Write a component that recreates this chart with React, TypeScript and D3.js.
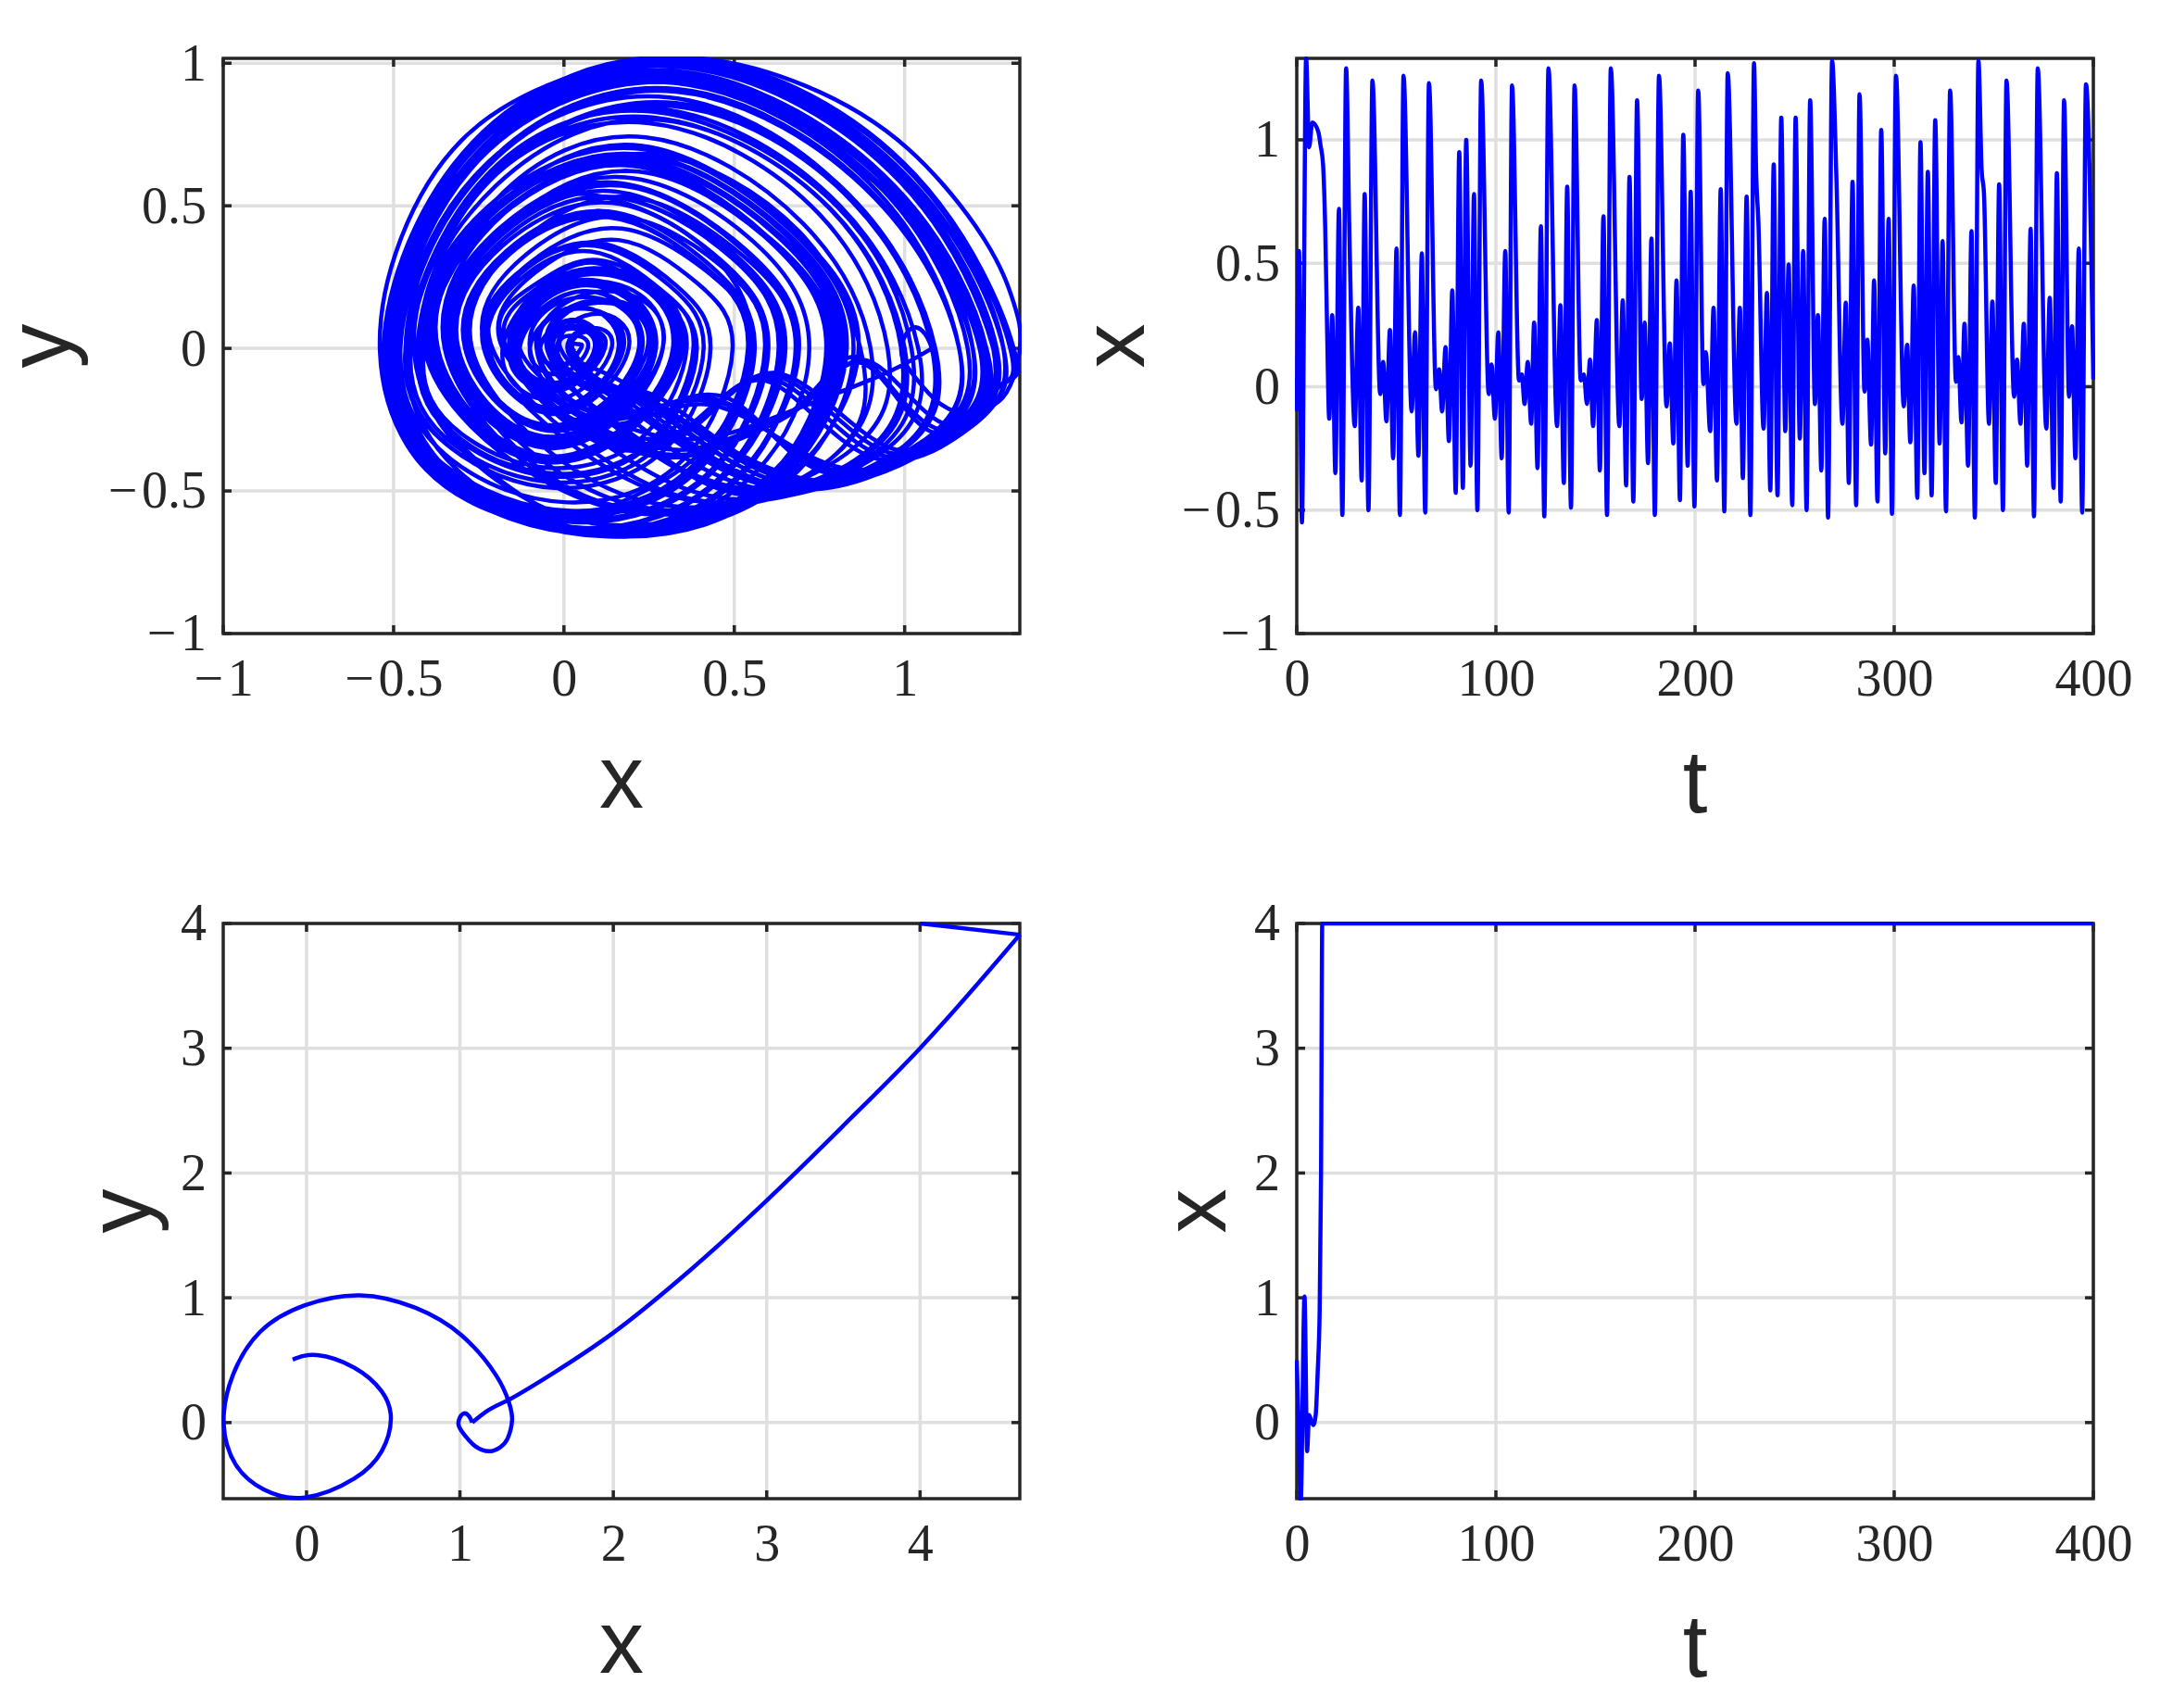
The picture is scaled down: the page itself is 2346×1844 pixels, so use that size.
import { useEffect, useRef } from "react";
import * as d3 from "d3";

// x(t), bounded run: turning points
const boundedT = [
  0, 1.1, 2.6, 4.7, 6.2, 7.8, 10.9, 11.9, 13.2, 14.3,
  15.2, 16.3, 17.8, 19.4, 21.2, 22.9, 24.8, 26.4, 29.1, 30.9,
  32.6, 34.1, 36, 38, 41.9, 43.4, 45, 46.8, 48.4, 50.1,
  51.8, 53.6, 57.7, 59.4, 61.1, 62.8, 64.5, 66.4, 69.9, 71.5,
  73, 74.7, 76.4, 78.1, 79.8, 81.6, 83.4, 85.1, 87.3, 89,
  90.7, 92.6, 96.4, 97.8, 99.5, 101.2, 102.9, 104.7, 106.4, 108.1,
  111.6, 113, 114.4, 116, 117.7, 119.2, 120.9, 122.6, 124.3, 126.4,
  130.7, 132.4, 134.1, 135.8, 137.7, 139.5, 142.6, 144.2, 145.7, 147.3,
  148.8, 150.7, 152.2, 154, 155.8, 157.7, 162, 163.7, 165.4, 167.1,
  169, 170.9, 173.2, 174.7, 176.4, 178.1, 179.8, 181.9, 185.7, 187.3,
  189.1, 190.7, 192.4, 194.1, 196.3, 197.8, 199.7, 201.6, 204.2, 205.4,
  207.6, 209.3, 211, 212.9, 214.7, 216.4, 220.8, 222.5, 224, 225.9,
  227.8, 229.6, 230.7, 231.8, 234.4, 236.1, 237.8, 239.5, 241.4, 243.3,
  245.3, 247, 248.8, 250.5, 252.6, 254.3, 256, 257.8, 260.2, 261.7,
  263.4, 265.1, 266.8, 268.8, 271, 274, 275.7, 277.2, 279.1, 280.9,
  282.6, 285.1, 286.5, 288.4, 289.9, 291.6, 293.5, 295.5, 297.2, 298.9,
  300.9, 304.8, 306.5, 308.1, 309.8, 311.6, 313.2, 315.2, 316.9, 318.8,
  320.6, 322.8, 324.3, 326, 328.1, 331, 332.2, 333.8, 335.3, 337.1,
  338.8, 340.5, 342.3, 343.9, 345.1, 347.6, 349.3, 351, 352.7, 354.6,
  356.4, 360.2, 361.7, 363.4, 365.1, 366.8, 368.5, 370.2, 372.1, 376.4,
  378.1, 380, 381.7, 383.6, 385.3, 387.8, 389.3, 391, 392.7, 394.4,
  396.3, 400,
];
const boundedX = [
  -0.1, 0.55, -0.55, 1.33, 0.97, 1.07, 1.03, 0.98, 0.9, 0.64,
  0.25, -0.13, 0.29, -0.35, 0.72, -0.52, 1.29, 0.63, -0.16, 0.32,
  -0.38, 0.78, -0.5, 1.24, -0.03, 0.1, -0.14, 0.23, -0.29, 0.56,
  -0.52, 1.26, -0.1, 0.22, -0.28, 0.54, -0.51, 1.23, -0.01, 0.07,
  -0.1, 0.16, -0.22, 0.39, -0.43, 0.95, -0.41, 1, -0.32, 0.78,
  -0.5, 1.24, -0.03, 0.09, -0.13, 0.22, -0.29, 0.55, -0.51, 1.22,
  0.025, 0.05, -0.07, 0.1, -0.15, 0.26, -0.33, 0.65, -0.525, 1.29,
  -0.16, 0.33, -0.39, 0.81, -0.49, 1.22, 0.025, 0.05, -0.07, 0.11,
  -0.16, 0.27, -0.34, 0.69, -0.52, 1.29, -0.16, 0.35, -0.4, 0.85,
  -0.465, 1.16, -0.05, 0.26, -0.31, 0.6, -0.52, 1.26, -0.08, 0.175,
  -0.23, 0.43, -0.46, 1.02, -0.32, 0.79, -0.485, 1.2, 0.01, 0.14,
  -0.18, 0.32, -0.38, 0.8, -0.505, 1.27, -0.15, 0.32, -0.37, 0.77,
  -0.52, 1.31, 0.86, 0.67, -0.17, 0.38, -0.42, 0.9, -0.44, 1.09,
  -0.18, 0.495, -0.48, 1.09, -0.21, 0.55, -0.5, 1.16, -0.07, 0.29,
  -0.34, 0.68, -0.53, 1.32, 0.84, -0.15, 0.34, -0.39, 0.83, -0.48,
  1.185, -0.02, 0.19, -0.235, 0.43, -0.465, 1.04, -0.27, 0.68, -0.515,
  1.26, -0.08, 0.17, -0.225, 0.41, -0.45, 0.99, -0.35, 0.87, -0.44,
  1.08, -0.23, 0.59, -0.505, 1.2, 0.02, 0.12, -0.145, 0.255, -0.32,
  0.63, -0.53, 1.32, 0.88, 0.78, -0.15, 0.345, -0.39, 0.82, -0.5,
  1.24, -0.04, 0.11, -0.15, 0.255, -0.32, 0.64, -0.525, 1.29, -0.17,
  0.36, -0.41, 0.865, -0.465, 1.16, -0.04, 0.245, -0.29, 0.56, -0.51,
  1.225, 0.03,
];

// opening spiral, shared by both phase plots: [x, y]
const spiralKnots = [
  [-0.09, 0.505], [0.07, 0.54], [0.31, 0.44], [0.49, 0.25], [0.55, 0.03], [0.49, -0.23],
  [0.31, -0.45], [-0.01, -0.6], [-0.28, -0.535], [-0.46, -0.34], [-0.54, -0.01], [-0.48, 0.38],
  [-0.3, 0.73], [-0.01, 0.94], [0.35, 1.02], [0.71, 0.92], [1.01, 0.7], [1.235, 0.38], [1.32, 0.16],
  [1.34, 0.02], [1.31, -0.13], [1.26, -0.2], [1.19, -0.23], [1.1, -0.19], [1.03, -0.1], [0.99, -0.01],
  [1.02, 0.07], [1.06, 0.05], [1.08, 0],
];
const settleKnots = [[1.08, 0], [0.92, -0.1], [0.6, -0.25], [0.25, -0.3], [-0.13, 0]];

// one row per turn: trough x, peak x, knots on the way up, knots on the way back
const orbitTurns: [number, number, number[], number[]][] = [
  [-0.13, 0.29, [0.08, 0.235], [-0.03, -0.35]],
  [-0.35, 0.72, [-0.19, 0.42, 0.18, 0.6, 0.56, 0.37], [0.54, -0.46, 0.09, -0.65, -0.34, -0.46]],
  [-0.52, 1.29, [-0.26, 0.72, 0.36, 1.015, 1.01, 0.6], [1.2, -0.26, 0.92, -0.37, 0.62, -0.11, 0.38, -0.26, 0.12, -0.31]],
  [-0.16, 0.32, [0.08, 0.27], [-0.03, -0.38]],
  [-0.38, 0.78, [-0.2, 0.46, 0.2, 0.65, 0.6, 0.39], [0.59, -0.47, 0.14, -0.65, -0.31, -0.47]],
  [-0.5, 1.24, [-0.27, 0.69, 0.34, 0.97, 0.97, 0.57], [1.14, -0.3, 0.7, -0.47, 0.27, -0.19, 0.08, -0.13]],
  [-0.03, 0.1, [0.03, 0.07], [-0.02, -0.13]],
  [-0.14, 0.23, [0.05, 0.2], [-0.03, -0.28]],
  [-0.29, 0.56, [-0.17, 0.34, 0.13, 0.48, 0.43, 0.29], [0.4, -0.42, 0.02, -0.59, -0.36, -0.42]],
  [-0.52, 1.26, [-0.27, 0.7, 0.35, 0.99, 0.99, 0.58], [1.17, -0.27, 0.8, -0.43, 0.45, -0.18, 0.12, -0.25]],
  [-0.1, 0.22, [0.06, 0.18], [-0.03, -0.27]],
  [-0.28, 0.54, [-0.16, 0.33, 0.13, 0.46, 0.42, 0.28], [0.38, -0.41, 0.015, -0.57, -0.35, -0.41]],
  [-0.51, 1.23, [-0.26, 0.68, 0.33, 0.96, 0.96, 0.56], [1.13, -0.3, 0.72, -0.46, 0.28, -0.2, 0.1, -0.13]],
  [-0.01, 0.07, [0.03, 0.045], [-0.015, -0.09]],
  [-0.1, 0.16, [0.03, 0.145], [-0.03, -0.21]],
  [-0.22, 0.39, [-0.13, 0.24, 0.08, 0.34, 0.29, 0.2], [0.27, -0.32, -0.02, -0.45, -0.31, -0.32]],
  [-0.43, 0.95, [-0.24, 0.56, 0.25, 0.79, 0.75, 0.47], [0.85, -0.35, 0.4, -0.57, -0.05, -0.47]],
  [-0.41, 1, [-0.2, 0.57, 0.29, 0.8, 0.79, 0.48], [0.9, -0.36, 0.45, -0.55, 0, -0.48]],
  [-0.32, 0.78, [-0.16, 0.44, 0.22, 0.62, 0.61, 0.37], [0.59, -0.46, 0.14, -0.64, -0.31, -0.46]],
  [-0.5, 1.24, [-0.26, 0.67, 0.33, 0.95, 0.97, 0.55], [1.15, -0.28, 0.68, -0.48, 0.26, -0.2, 0.08, -0.14]],
  [-0.03, 0.09, [0.03, 0.07], [-0.02, -0.12]],
  [-0.13, 0.22, [0.05, 0.2], [-0.03, -0.27]],
  [-0.29, 0.55, [-0.17, 0.33, 0.12, 0.47, 0.42, 0.28], [0.39, -0.41, 0.02, -0.57, -0.35, -0.41]],
  [-0.51, 1.22, [-0.26, 0.67, 0.33, 0.94, 0.95, 0.55], [1.12, -0.3, 0.68, -0.48, 0.25, -0.2, 0.08, -0.1]],
  [0.025, 0.05, [0.04, 0.015], [-0.01, -0.065]],
  [-0.07, 0.1, [0.02, 0.095], [-0.025, -0.14]],
  [-0.15, 0.26, [0.05, 0.23], [-0.03, -0.32]],
  [-0.33, 0.65, [-0.19, 0.39, 0.15, 0.55, 0.5, 0.33], [0.47, -0.45, 0.06, -0.63, -0.35, -0.45]],
  [-0.525, 1.29, [-0.27, 0.71, 0.36, 1.005, 1.01, 0.59], [1.21, -0.25, 0.94, -0.36, 0.63, -0.1, 0.37, -0.27, 0.11, -0.32]],
  [-0.16, 0.33, [0.08, 0.27], [-0.03, -0.39]],
  [-0.39, 0.81, [-0.22, 0.48, 0.2, 0.67, 0.63, 0.4], [0.61, -0.48, 0.16, -0.66, -0.3, -0.48]],
  [-0.49, 1.22, [-0.25, 0.66, 0.33, 0.93, 0.95, 0.54], [1.11, -0.31, 0.66, -0.49, 0.24, -0.21, 0.09, -0.1]],
  [0.025, 0.05, [0.04, 0.015], [-0.01, -0.06]],
  [-0.07, 0.11, [0.02, 0.1], [-0.025, -0.15]],
  [-0.16, 0.27, [0.05, 0.24], [-0.035, -0.33]],
  [-0.34, 0.69, [-0.19, 0.41, 0.16, 0.58, 0.53, 0.35], [0.5, -0.46, 0.08, -0.65, -0.33, -0.46]],
  [-0.52, 1.29, [-0.26, 0.71, 0.36, 1.01, 1.01, 0.6], [1.19, -0.28, 0.9, -0.38, 0.61, -0.12, 0.41, -0.24, 0.13, -0.3]],
  [-0.16, 0.35, [0.09, 0.28], [-0.03, -0.4]],
  [-0.4, 0.85, [-0.22, 0.5, 0.22, 0.7, 0.66, 0.42], [0.65, -0.47, 0.18, -0.65, -0.27, -0.47]],
  [-0.465, 1.16, [-0.23, 0.63, 0.33, 0.9, 0.91, 0.53], [1.05, -0.33, 0.6, -0.51, 0.2, -0.32]],
  [-0.05, 0.26, [0.1, 0.17], [-0.03, -0.31]],
  [-0.31, 0.6, [-0.18, 0.36, 0.14, 0.51, 0.46, 0.31], [0.43, -0.44, 0.04, -0.61, -0.35, -0.44]],
  [-0.52, 1.26, [-0.27, 0.7, 0.35, 0.985, 0.99, 0.58], [1.18, -0.26, 0.78, -0.44, 0.47, -0.17, 0.14, -0.24]],
  [-0.08, 0.175, [0.05, 0.14], [-0.03, -0.22]],
  [-0.23, 0.43, [-0.13, 0.26, 0.1, 0.37, 0.33, 0.22], [0.3, -0.35, -0.02, -0.49, -0.33, -0.35]],
  [-0.46, 1.02, [-0.24, 0.59, 0.26, 0.83, 0.8, 0.5], [0.92, -0.36, 0.47, -0.56, 0.02, -0.46]],
  [-0.32, 0.79, [-0.16, 0.44, 0.22, 0.62, 0.62, 0.37], [0.6, -0.47, 0.15, -0.64, -0.3, -0.47]],
  [-0.485, 1.2, [-0.25, 0.66, 0.33, 0.94, 0.94, 0.55], [1.09, -0.32, 0.65, -0.49, 0.25, -0.24, 0.08, -0.1]],
  [0.01, 0.14, [0.07, 0.07], [-0.02, -0.18]],
  [-0.18, 0.32, [0.07, 0.28], [-0.03, -0.38]],
  [-0.38, 0.8, [-0.21, 0.47, 0.2, 0.66, 0.62, 0.4], [0.6, -0.48, 0.15, -0.66, -0.31, -0.48]],
  [-0.505, 1.27, [-0.27, 0.7, 0.35, 0.99, 1, 0.58], [1.18, -0.27, 0.82, -0.42, 0.44, -0.2, 0.1, -0.27]],
  [-0.15, 0.32, [0.08, 0.26], [-0.025, -0.38]],
  [-0.37, 0.77, [-0.2, 0.45, 0.2, 0.64, 0.6, 0.38], [0.58, -0.48, 0.13, -0.66, -0.33, -0.48]],
  [-0.52, 1.31, [-0.26, 0.72, 0.37, 1.017, 1.03, 0.6], [1.27, -0.14, 1.17, -0.28, 1.03, -0.25, 0.87, -0.05, 0.7, -0.2, 0.48, -0.33, 0.2, -0.34]],
  [-0.17, 0.38, [-0.09, 0.22, 0.1, 0.31, 0.3, 0.19], [0.26, -0.32, -0.02, -0.44, -0.3, -0.32]],
  [-0.42, 0.9, [-0.2, 0.52, 0.24, 0.74, 0.7, 0.44], [0.78, -0.39, 0.25, -0.62, -0.2, -0.46]],
  [-0.44, 1.09, [-0.21, 0.61, 0.33, 0.86, 0.86, 0.51], [1, -0.35, 0.55, -0.53, 0.15, -0.36]],
  [-0.18, 0.495, [-0.08, 0.27, 0.16, 0.38, 0.39, 0.23], [0.35, -0.39, 0.01, -0.54, -0.33, -0.39]],
  [-0.48, 1.09, [-0.25, 0.62, 0.31, 0.88, 0.85, 0.52], [0.99, -0.35, 0.53, -0.54, 0.12, -0.39]],
  [-0.21, 0.55, [-0.1, 0.3, 0.17, 0.42, 0.44, 0.25], [0.39, -0.42, 0.02, -0.58, -0.34, -0.42]],
  [-0.5, 1.16, [-0.25, 0.66, 0.33, 0.93, 0.92, 0.55], [1.05, -0.33, 0.58, -0.52, 0.21, -0.31]],
  [-0.07, 0.29, [0.11, 0.2], [-0.03, -0.34]],
  [-0.34, 0.68, [-0.19, 0.4, 0.17, 0.57, 0.53, 0.34], [0.5, -0.47, 0.07, -0.65, -0.35, -0.47]],
  [-0.53, 1.32, [-0.27, 0.72, 0.37, 1.017, 1.03, 0.61], [1.28, -0.13, 1.18, -0.27, 1.03, -0.23, 0.86, -0.03, 0.7, -0.19, 0.47, -0.34, 0.18, -0.35]],
  [-0.15, 0.34, [0.09, 0.27], [-0.03, -0.4]],
  [-0.39, 0.83, [-0.21, 0.48, 0.22, 0.68, 0.65, 0.41], [0.62, -0.48, 0.17, -0.66, -0.29, -0.48]],
  [-0.48, 1.185, [-0.25, 0.66, 0.35, 0.93, 0.94, 0.55], [1.07, -0.32, 0.62, -0.5, 0.22, -0.27, 0.06, -0.12]],
  [-0.02, 0.19, [0.08, 0.12], [-0.02, -0.23]],
  [-0.235, 0.43, [-0.14, 0.26, 0.1, 0.37, 0.33, 0.22], [0.3, -0.35, -0.02, -0.49, -0.33, -0.35]],
  [-0.465, 1.04, [-0.23, 0.59, 0.28, 0.84, 0.81, 0.5], [0.95, -0.35, 0.5, -0.55, 0.05, -0.44]],
  [-0.27, 0.68, [-0.12, 0.38, 0.2, 0.53, 0.53, 0.32], [0.5, -0.46, 0.08, -0.64, -0.34, -0.46]],
  [-0.515, 1.26, [-0.27, 0.71, 0.36, 1, 1, 0.59], [1.16, -0.28, 0.79, -0.43, 0.46, -0.19, 0.11, -0.23]],
  [-0.08, 0.17, [0.05, 0.14], [-0.03, -0.22]],
  [-0.225, 0.41, [-0.13, 0.26, 0.09, 0.36, 0.31, 0.22], [0.28, -0.34, -0.02, -0.47, -0.32, -0.34]],
  [-0.45, 0.99, [-0.24, 0.57, 0.26, 0.81, 0.78, 0.49], [0.88, -0.37, 0.42, -0.57, -0.02, -0.48]],
  [-0.35, 0.87, [-0.17, 0.48, 0.26, 0.68, 0.69, 0.41], [0.78, -0.39, 0.22, -0.62, -0.2, -0.45]],
  [-0.44, 1.08, [-0.22, 0.6, 0.32, 0.85, 0.85, 0.51], [0.98, -0.36, 0.52, -0.54, 0.1, -0.4]],
  [-0.23, 0.59, [-0.11, 0.33, 0.18, 0.46, 0.47, 0.28], [0.43, -0.43, 0.04, -0.6, -0.35, -0.43]],
  [-0.505, 1.2, [-0.25, 0.68, 0.34, 0.96, 0.95, 0.57], [1.08, -0.32, 0.64, -0.49, 0.24, -0.25, 0.07, -0.11]],
  [0.02, 0.12, [0.07, 0.06], [-0.015, -0.145]],
  [-0.145, 0.255, [0.05, 0.22], [-0.03, -0.32]],
  [-0.32, 0.63, [-0.18, 0.38, 0.15, 0.53, 0.49, 0.32], [0.46, -0.45, 0.05, -0.63, -0.36, -0.45]],
  [-0.53, 1.32, [-0.27, 0.72, 0.37, 1.012, 1.03, 0.6], [1.29, -0.12, 1.19, -0.26, 1.05, -0.21, 0.88, -0.04, 0.72, -0.18, 0.5, -0.31, 0.21, -0.33]],
  [-0.15, 0.345, [0.09, 0.28], [-0.02, -0.4]],
  [-0.39, 0.82, [-0.22, 0.48, 0.21, 0.68, 0.64, 0.41], [0.62, -0.48, 0.16, -0.66, -0.3, -0.48]],
  [-0.5, 1.24, [-0.26, 0.68, 0.34, 0.965, 0.97, 0.56], [1.15, -0.28, 0.71, -0.47, 0.29, -0.18, 0.09, -0.15]],
  [-0.04, 0.11, [0.03, 0.08], [-0.02, -0.14]],
  [-0.15, 0.255, [0.05, 0.23], [-0.03, -0.32]],
  [-0.32, 0.64, [-0.18, 0.38, 0.15, 0.53, 0.5, 0.32], [0.47, -0.45, 0.06, -0.63, -0.35, -0.45]],
  [-0.525, 1.29, [-0.27, 0.71, 0.36, 1.008, 1.01, 0.59], [1.22, -0.24, 0.96, -0.35, 0.64, -0.09, 0.39, -0.27, 0.1, -0.33]],
  [-0.17, 0.36, [-0.08, 0.21, 0.09, 0.3, 0.28, 0.18], [0.24, -0.3, -0.03, -0.42, -0.3, -0.3]],
  [-0.41, 0.865, [-0.19, 0.5, 0.23, 0.71, 0.67, 0.42], [0.64, -0.47, 0.18, -0.65, -0.27, -0.47]],
  [-0.465, 1.16, [-0.23, 0.64, 0.33, 0.91, 0.91, 0.54], [1.06, -0.32, 0.61, -0.5, 0.19, -0.31]],
  [-0.04, 0.245, [0.1, 0.16], [-0.02, -0.29]],
  [-0.29, 0.56, [-0.17, 0.34, 0.13, 0.48, 0.43, 0.29], [0.4, -0.42, 0.02, -0.59, -0.36, -0.42]],
  [-0.51, 1.225, [-0.26, 0.68, 0.35, 0.97, 0.96, 0.56], [1.14, -0.29, 0.7, -0.47, 0.27, -0.19, 0.05, -0.05]],
];

// escaping run
const escapeKnots = [
  [1.08, 0], [1.17, 0.087], [1.33, 0.19], [1.6, 0.39], [2, 0.72], [2.5, 1.22],
  [3, 1.78], [3.5, 2.38], [4, 3], [4.65, 3.91],
];
const clampKnots = [[4.65, 3.91], [4, 4]];
const escapeT = [0, 1, 2, 3.9, 5.2, 6.2, 7.2, 8.3, 9.5, 10.5, 11.5, 12.2, 12.8, 400];
const escapeY = [0.5, -0.05, -0.62, 1.01, -0.23, 0.06, 0.02, -0.02, 0.06, 0.4, 0.9, 2, 4, 4];

const lineBlue = "#0000ff";
const inkColor = "#262626";
const gridColor = "#dfdfdf";
const tickFont = "'Liberation Serif', serif";
const labelFont = "'Liberation Sans', sans-serif";

interface PanelSpec {
  id: string;
  left: number;
  top: number;
  xDomain: number[];
  yDomain: number[];
  xTicks: number[];
  yTicks: number[];
  xLabel: string;
  yLabel: string;
  yLabelX: number;
  labelY: number;
}

const panelWidth = 860;
const panelHeight = 621;
const fmt = (d: d3.NumberValue) => String(+d).replace("-", "\u2212\u200a");

function drawPanel(
  root: d3.Selection<SVGSVGElement, unknown, null, undefined>,
  spec: PanelSpec,
  paths: { knots: number[][]; curve: d3.CurveFactory }[]
) {
  const x = d3.scaleLinear().domain(spec.xDomain).range([0, panelWidth]);
  const y = d3.scaleLinear().domain(spec.yDomain).range([panelHeight, 0]);
  const g = root.append("g").attr("transform", `translate(${spec.left},${spec.top})`);

  g.append("clipPath")
    .attr("id", spec.id)
    .append("rect")
    .attr("x", -2)
    .attr("y", -2)
    .attr("width", panelWidth + 4)
    .attr("height", panelHeight + 4);

  // grid
  g.append("g")
    .selectAll("line")
    .data(spec.xTicks)
    .join("line")
    .attr("x1", (d) => x(d))
    .attr("x2", (d) => x(d))
    .attr("y1", 0)
    .attr("y2", panelHeight)
    .attr("stroke", gridColor)
    .attr("stroke-width", 3.5);
  g.append("g")
    .selectAll("line")
    .data(spec.yTicks)
    .join("line")
    .attr("y1", (d) => y(d))
    .attr("y2", (d) => y(d))
    .attr("x1", 0)
    .attr("x2", panelWidth)
    .attr("stroke", gridColor)
    .attr("stroke-width", 3.5);

  // inward ticks on all four sides
  const tickLen = 9;
  const ticks = g.append("g").attr("stroke", inkColor).attr("stroke-width", 3.5);
  spec.xTicks.forEach((d) => {
    ticks.append("line").attr("x1", x(d)).attr("x2", x(d)).attr("y1", panelHeight).attr("y2", panelHeight - tickLen);
    ticks.append("line").attr("x1", x(d)).attr("x2", x(d)).attr("y1", 0).attr("y2", tickLen);
  });
  spec.yTicks.forEach((d) => {
    ticks.append("line").attr("y1", y(d)).attr("y2", y(d)).attr("x1", 0).attr("x2", tickLen);
    ticks.append("line").attr("y1", y(d)).attr("y2", y(d)).attr("x1", panelWidth).attr("x2", panelWidth - tickLen);
  });

  g.append("rect")
    .attr("width", panelWidth)
    .attr("height", panelHeight)
    .attr("fill", "none")
    .attr("stroke", inkColor)
    .attr("stroke-width", 3.5);

  // tick labels
  g.append("g")
    .attr("transform", `translate(0,${panelHeight})`)
    .call(d3.axisBottom(x).tickValues(spec.xTicks).tickFormat(fmt).tickSize(0).tickPadding(27))
    .call((a) => a.select(".domain").remove())
    .call((a) => a.selectAll("text").attr("font-size", 56).attr("font-family", tickFont).attr("fill", inkColor));
  g.append("g")
    .call(d3.axisLeft(y).tickValues(spec.yTicks).tickFormat(fmt).tickSize(0).tickPadding(18))
    .call((a) => a.select(".domain").remove())
    .call((a) => a.selectAll("text").attr("font-size", 56).attr("font-family", tickFont).attr("fill", inkColor));

  // curves
  const line = d3
    .line<number[]>()
    .x((d) => x(d[0]))
    .y((d) => y(d[1]));
  const plot = g.append("g").attr("clip-path", `url(#${spec.id})`).attr("fill", "none");
  paths.forEach((p) => {
    plot
      .append("path")
      .attr("d", line.curve(p.curve)(p.knots))
      .attr("stroke", lineBlue)
      .attr("stroke-width", 4.5)
      .attr("stroke-linejoin", "round");
  });

  // axis names
  root
    .append("text")
    .attr("x", spec.left + panelWidth / 2)
    .attr("y", spec.labelY)
    .attr("text-anchor", "middle")
    .attr("font-family", labelFont)
    .attr("font-size", 96)
    .attr("fill", inkColor)
    .text(spec.xLabel);
  root
    .append("text")
    .attr("transform", `translate(${spec.yLabelX},${spec.top + panelHeight / 2}) rotate(-90)`)
    .attr("text-anchor", "middle")
    .attr("font-family", labelFont)
    .attr("font-size", 96)
    .attr("fill", inkColor)
    .text(spec.yLabel);
}

export default function App() {
  const ref = useRef<SVGSVGElement>(null);

  useEffect(() => {
    const svg = d3.select(ref.current!);
    svg.selectAll("*").remove();

    const orbitKnots: number[][] = [...settleKnots];
    orbitTurns.forEach(([trough, peak, rise, back], i) => {
      if (i > 0) orbitKnots.push([trough, 0]);
      for (let j = 0; j < rise.length; j += 2) orbitKnots.push([rise[j], rise[j + 1]]);
      orbitKnots.push([peak, 0]);
      for (let j = 0; j < back.length; j += 2) orbitKnots.push([back[j], back[j + 1]]);
    });
    orbitKnots.push([0.03, 0]);

    const boundedSeries = boundedT.map((t, i) => [t, boundedX[i]]);
    const escapeSeries = escapeT.map((t, i) => [t, escapeY[i]]);

    drawPanel(
      svg,
      {
        id: "clip-tl",
        left: 241,
        top: 63,
        xDomain: [-1, 1.338],
        yDomain: [-1, 1.017],
        xTicks: [-1, -0.5, 0, 0.5, 1],
        yTicks: [-1, -0.5, 0, 0.5, 1],
        xLabel: "x",
        yLabel: "y",
        yLabelX: 75,
        labelY: 872,
      },
      [
        { knots: spiralKnots, curve: d3.curveNatural },
        { knots: orbitKnots, curve: d3.curveNatural },
      ]
    );
    drawPanel(
      svg,
      {
        id: "clip-tr",
        left: 1400,
        top: 63,
        xDomain: [0, 400],
        yDomain: [-1, 1.33],
        xTicks: [0, 100, 200, 300, 400],
        yTicks: [-1, -0.5, 0, 0.5, 1],
        xLabel: "t",
        yLabel: "x",
        yLabelX: 1235,
        labelY: 877,
      },
      [{ knots: boundedSeries, curve: d3.curveMonotoneX }]
    );
    drawPanel(
      svg,
      {
        id: "clip-bl",
        left: 241,
        top: 997,
        xDomain: [-0.543, 4.65],
        yDomain: [-0.61, 4],
        xTicks: [0, 1, 2, 3, 4],
        yTicks: [0, 1, 2, 3, 4],
        xLabel: "x",
        yLabel: "y",
        yLabelX: 162,
        labelY: 1806,
      },
      [
        { knots: spiralKnots, curve: d3.curveNatural },
        { knots: escapeKnots, curve: d3.curveMonotoneX },
        { knots: clampKnots, curve: d3.curveLinear },
      ]
    );
    drawPanel(
      svg,
      {
        id: "clip-br",
        left: 1400,
        top: 997,
        xDomain: [0, 400],
        yDomain: [-0.61, 4],
        xTicks: [0, 100, 200, 300, 400],
        yTicks: [0, 1, 2, 3, 4],
        xLabel: "t",
        yLabel: "x",
        yLabelX: 1323,
        labelY: 1810,
      },
      [{ knots: escapeSeries, curve: d3.curveMonotoneX }]
    );
  }, []);

  return (
    <svg
      ref={ref}
      width={2346}
      height={1844}
      style={{ position: "absolute", left: 0, top: 0, background: "#fff" }}
    />
  );
}
